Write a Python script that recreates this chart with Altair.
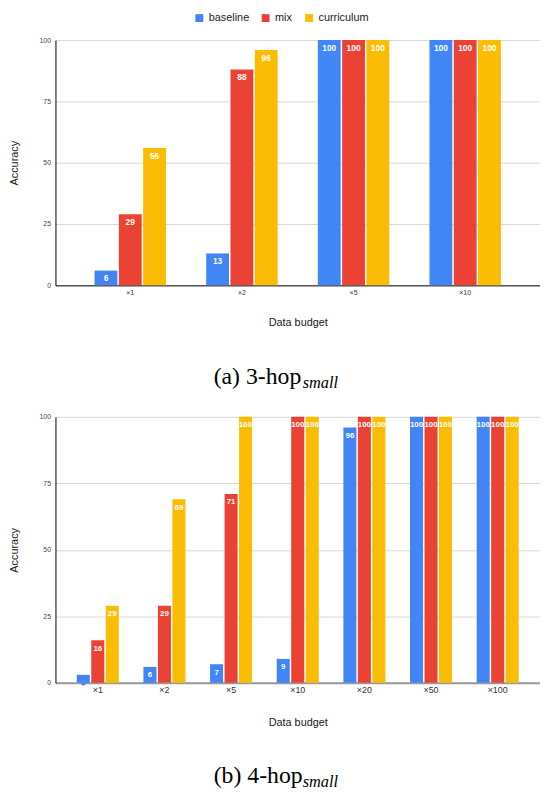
import altair as alt
import pandas as pd

series = ["baseline", "mix", "curriculum"]
colors = ["#4285F4", "#EA4335", "#FBBC04"]

budgets_a = ["×1", "×2", "×5", "×10"]
baseline_a = [6, 13, 100, 100]
mix_a = [29, 88, 100, 100]
curriculum_a = [56, 96, 100, 100]

budgets_b = ["×1", "×2", "×5", "×10", "×20", "×50", "×100"]
baseline_b = [3, 6, 7, 9, 96, 100, 100]
mix_b = [16, 29, 71, 100, 100, 100, 100]
curriculum_b = [29, 69, 100, 100, 100, 100, 100]

y_ticks = [0, 25, 50, 75, 100]
FONT = "Liberation Sans"
SERIF = "Liberation Serif"


def make_df(budgets, *vals):
    rows = []
    for s, v in zip(series, vals):
        for b, x in zip(budgets, v):
            rows.append({"budget": b, "series": s, "value": x})
    return pd.DataFrame(rows)


def panel(df, budgets, height, pi, po, off_pi, xlab_size, dom_color, dom_width,
          lab_size, lab_dy, cap_main, cap_sub, cap_y, show_legend):
    base = alt.Chart(df).encode(
        x=alt.X("budget:N", sort=budgets,
                scale=alt.Scale(paddingInner=pi, paddingOuter=po),
                axis=alt.Axis(title="Data budget", labelAngle=0, labelFontSize=xlab_size,
                              labelColor="#333", labelFont=FONT, labelPadding=3,
                              ticks=False, domainColor=dom_color, domainWidth=dom_width,
                              titleFont=FONT, titleFontSize=11, titleFontWeight="normal",
                              titleColor="#222", titlePadding=22, grid=False)),
        xOffset=alt.XOffset("series:N", sort=series, scale=alt.Scale(paddingInner=off_pi)),
        y=alt.Y("value:Q", scale=alt.Scale(domain=[0, 100], nice=False),
                axis=alt.Axis(values=y_ticks, title="Accuracy", labelFontSize=7,
                              labelColor="#444", labelFont=FONT, labelPadding=5,
                              ticks=False, domainColor="#000", domainWidth=1,
                              gridColor="#d9d9d9", gridWidth=1,
                              titleFont=FONT, titleFontSize=11, titleFontWeight="normal",
                              titleColor="#222", titlePadding=19.5)),
    )
    legend = None
    if show_legend:
        legend = alt.Legend(title=None, orient="none", legendX=140, legendY=-28,
                            direction="horizontal", symbolType="square", symbolSize=64,
                            symbolStrokeWidth=0, labelFont=FONT, labelFontSize=11,
                            labelColor="#222", columnPadding=11, labelOffset=4, padding=0)
    bars = base.mark_bar().encode(
        color=alt.Color("series:N", sort=series,
                        scale=alt.Scale(domain=series, range=colors), legend=legend)
    )
    labels = base.mark_text(baseline="middle", dy=lab_dy, font=FONT, fontWeight="bold",
                            fontSize=lab_size, color="white", stroke="#4285F4").encode(
        text="value:Q",
        strokeWidth=alt.condition("datum.value < 5", alt.value(0.8), alt.value(0)),
    )
    cap1 = alt.Chart(pd.DataFrame({"t": [cap_main]})).mark_text(
        align="left", baseline="alphabetic", font=SERIF, fontSize=24, color="#000"
    ).encode(text="t:N", x=alt.value(160), y=alt.value(height + cap_y))
    cap2 = alt.Chart(pd.DataFrame({"t": [cap_sub]})).mark_text(
        align="left", baseline="alphabetic", font=SERIF, fontSize=16.5, fontStyle="italic",
        color="#000"
    ).encode(text="t:N", x=alt.value(250), y=alt.value(height + cap_y + 4))
    return alt.layer(bars, labels, cap1, cap2).properties(width=490, height=height)


df_a = make_df(budgets_a, baseline_a, mix_a, curriculum_a)
df_b = make_df(budgets_b, baseline_b, mix_b, curriculum_b)

top = panel(df_a, budgets_a, 248, 0.36, 0.35, 0.06, 7, "#555", 1.5, 8.5, 8,
            "(a) 3-hop", "small", 100, True)
bottom = panel(df_b, budgets_b, 269, 0.37, 0.32, 0.1, 9, "#999", 2, 8, 8.5,
               "(b) 4-hop", "small", 101, False)

chart = alt.vconcat(top, bottom, spacing=21).resolve_scale(
    x="independent", xOffset="independent", color="shared"
).configure(
    padding={"left": 0, "top": 0, "right": 0, "bottom": 0}
).configure_view(stroke=None)

chart.save("out.html", embed_options={"renderer": "svg", "actions": False})
